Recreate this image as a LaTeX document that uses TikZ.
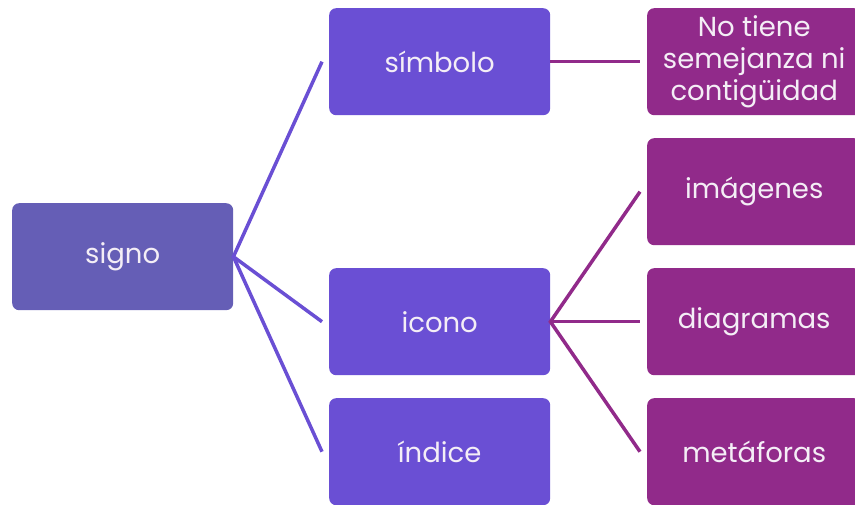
\documentclass[tikz,border=0pt]{standalone}
\usepackage{fontspec}
\setmainfont{Poppins}
\definecolor{cSig}{HTML}{655EB6}
\definecolor{cBlue}{HTML}{6A4FD4}
\definecolor{cPur}{HTML}{912A8A}
\definecolor{cTxt}{HTML}{F4EEF6}
\begin{document}
\begin{tikzpicture}[x=1pt,y=-1pt,
  box/.style={draw=none,rounded corners=7pt,minimum width=221pt,minimum height=107pt,inner sep=0pt,
     text=cTxt,font=\fontsize{27.5}{32}\selectfont,align=center,anchor=north west},
  rbox/.style={box,minimum width=214pt,fill=cPur},
  bluel/.style={cBlue,line width=3.5pt},
  purl/.style={cPur,line width=3.5pt}]
\useasboundingbox (0,0) rectangle (855,504);
\node[box,fill=cSig] (signo) at (12,203) {signo};
\node[box,fill=cBlue] (simb) at (329,8) {símbolo};
\node[box,fill=cBlue] (icono) at (329,268) {icono};
\node[box,fill=cBlue] (ind) at (329,398) {índice};
\node[rbox] (no) at (647,8) {No tiene\\semejanza ni\\contigüidad};
\node[rbox] (img) at (647,138) {imágenes};
\node[rbox] (dia) at (647,268) {diagramas};
\node[rbox] (met) at (647,398) {metáforas};
\coordinate (sA) at ([xshift=-7pt]simb.west);
\coordinate (sB) at ([xshift=-7pt]icono.west);
\coordinate (sC) at ([xshift=-7pt]ind.west);
\draw[bluel] (sA) -- (signo.east) -- (sB);
\draw[bluel] (signo.east) -- (sC);
\coordinate (pA) at ([xshift=-7pt]img.west);
\coordinate (pB) at ([xshift=-7pt]dia.west);
\coordinate (pC) at ([xshift=-7pt]met.west);
\coordinate (pN) at ([xshift=-7pt]no.west);
\draw[purl] (simb.east) -- (pN);
\draw[purl] (pA) -- (icono.east) -- (pC);
\draw[purl] (icono.east) -- (pB);
\end{tikzpicture}
\end{document}
